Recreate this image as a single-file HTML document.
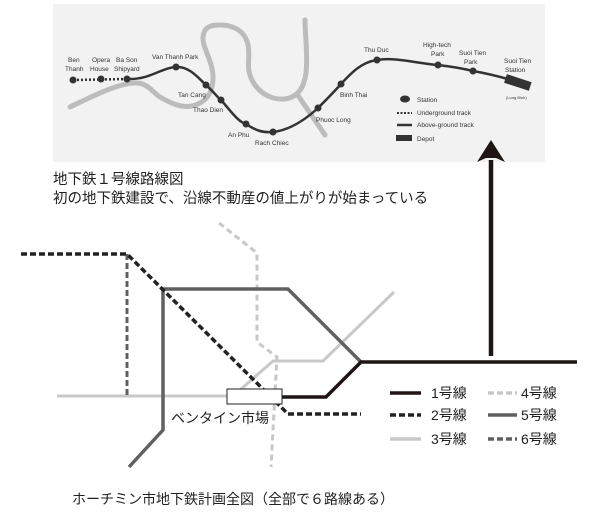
<!DOCTYPE html>
<html><head><meta charset="utf-8"><style>
html,body{margin:0;padding:0;background:#fff;}
svg{display:block;}
.j{font-family:"Liberation Sans","Noto Sans CJK JP",sans-serif;fill:#222;}
.s{font-family:"Liberation Sans",sans-serif;font-size:6.5px;fill:#333;}
</style></head><body>
<svg width="600" height="512" viewBox="0 0 600 512" xmlns="http://www.w3.org/2000/svg">
<rect x="53" y="4" width="492" height="158" fill="#f2f2f2"/>
<!-- rivers -->
<g fill="none" stroke="#bcbcbc" stroke-width="5" stroke-linecap="round" stroke-linejoin="round">
<path d="M70,107 C95,95 115,85 133,83 C148,82 152,92 160,97 C172,104 182,108 192,106 C205,103 212,95 213,80 C214,62 202,48 203,37 C204,27 210,25 220,25 C232,25 245,30 248,45 C251,58 244,70 255,85 C263,96 275,100 285,99 C298,97 304,88 306,73 C308,55 305,35 305,20"/>
<path d="M297,94 L325,135"/>
</g>
<!-- line 1 -->
<path d="M73,80 L127,79" stroke="#333" stroke-width="2.5" stroke-dasharray="2,2" fill="none"/>
<path d="M127,79 C150,80 160,68 176,67 C190,66 200,80 206,85 C214,92 218,98 221,100 C230,110 238,122 246,124 C255,130 262,133 273,132 C290,130 305,120 318,108 C328,98 334,92 341,84 C352,72 362,62 377,60 C395,57 415,63 438,65 C455,67 465,69 473,71 C490,74 505,78 518,82" stroke="#333" stroke-width="2.5" fill="none"/>
<g fill="#333">
<circle cx="73" cy="80" r="3.5"/><circle cx="101" cy="79" r="3.5"/><circle cx="127" cy="79" r="3.5"/>
<circle cx="176" cy="67" r="3.5"/><circle cx="206" cy="85" r="3.5"/><circle cx="221" cy="100" r="3.5"/>
<circle cx="246" cy="124" r="3.5"/><circle cx="273" cy="132" r="3.5"/><circle cx="318" cy="108" r="3.5"/>
<circle cx="341" cy="84" r="3.5"/><circle cx="377" cy="60" r="3.5"/><circle cx="438" cy="65" r="3.5"/>
<circle cx="473" cy="71" r="3.5"/>
<rect x="505" y="78" width="26" height="9" transform="rotate(18 518 82)"/>
</g>
<g class="s">
<text x="68" y="62">Ben</text><text x="65" y="71">Thanh</text>
<text x="92" y="62">Opera</text><text x="90" y="71">House</text>
<text x="116" y="62">Ba Son</text><text x="114" y="71">Shipyard</text>
<text x="152" y="59">Van Thanh Park</text>
<text x="178" y="97">Tan Cang</text>
<text x="193" y="112">Thao Dien</text>
<text x="228" y="137">An Phu</text>
<text x="255" y="145">Rach Chiec</text>
<text x="316" y="122">Phuoc Long</text>
<text x="340" y="97">Binh Thai</text>
<text x="364" y="52">Thu Duc</text>
<text x="423" y="47">High-tech</text><text x="431" y="56">Park</text>
<text x="459" y="55">Suoi Tien</text><text x="464" y="64">Park</text>
<text x="504" y="63">Suoi Tien</text><text x="505" y="72">Station</text>
<text x="506" y="99" style="font-size:4px">(Long Binh)</text>
<text x="417" y="102">Station</text>
<text x="417" y="115">Underground track</text>
<text x="417" y="127">Above-ground track</text>
<text x="417" y="141">Depot</text>
</g>
<ellipse cx="405" cy="99" rx="5" ry="3.5" fill="#333"/>
<path d="M397,113 L412,113" stroke="#333" stroke-width="2" stroke-dasharray="2,1.5"/>
<path d="M397,125 L412,125" stroke="#333" stroke-width="2.5"/>
<rect x="396" y="135" width="16" height="6" fill="#333"/>
<!-- titles -->
<text class="j" x="53" y="184" font-size="14.5">地下鉄１号線路線図</text>
<text class="j" x="53" y="203" font-size="14.5">初の地下鉄建設で、沿線不動産の値上がりが始まっている</text>
<!-- lower map -->
<g fill="none">
<path d="M57,396 L227,396 M240,390 L273,361 L323,361 L394,292" stroke="#c8c8c8" stroke-width="3"/>
<path d="M219,223 L257,253 L257,342 L277,357 L271,467" stroke="#c8c8c8" stroke-width="3" stroke-dasharray="6,4"/>
<path d="M129,467 L163,430 L163,289 L288,289 L361,362" stroke="#606060" stroke-width="3.5"/>
<path d="M127,254 L127,396" stroke="#606060" stroke-width="3" stroke-dasharray="6,3"/>
<path d="M21,254 L127,254 L288,414 L361,414" stroke="#222" stroke-width="3.5" stroke-dasharray="6,3"/>
<path d="M577,362 L361,362 L326,397 L281,397" stroke="#1e1414" stroke-width="3.5"/>
<path d="M491,356 L491,160" stroke="#1e1414" stroke-width="4.5"/>
</g>
<polygon points="477,162 491,140 505,162 496,158 486,158" fill="#1e1414"/>
<rect x="227" y="389" width="55" height="15" fill="#fff" stroke="#222" stroke-width="1"/>
<text class="j" x="171" y="423" font-size="14">ベンタイン市場</text>
<!-- legend -->
<path d="M390,393 L421,393" stroke="#1e1414" stroke-width="3.5"/>
<path d="M390,415 L421,415" stroke="#222" stroke-width="3.5" stroke-dasharray="6,3"/>
<path d="M390,439 L421,439" stroke="#c8c8c8" stroke-width="3.5"/>
<path d="M488,393 L517,393" stroke="#c8c8c8" stroke-width="3.5" stroke-dasharray="6,3"/>
<path d="M488,415 L517,415" stroke="#606060" stroke-width="3.5"/>
<path d="M488,439 L517,439" stroke="#606060" stroke-width="3.5" stroke-dasharray="6,3"/>
<g class="j" font-size="14">
<text x="431" y="398">1号線</text><text x="431" y="420">2号線</text><text x="431" y="444">3号線</text>
<text x="521" y="398">4号線</text><text x="521" y="420">5号線</text><text x="521" y="444">6号線</text>
</g>
<text class="j" x="72" y="504" font-size="14">ホーチミン市地下鉄計画全図（全部で６路線ある）</text>
</svg>
</body></html>
